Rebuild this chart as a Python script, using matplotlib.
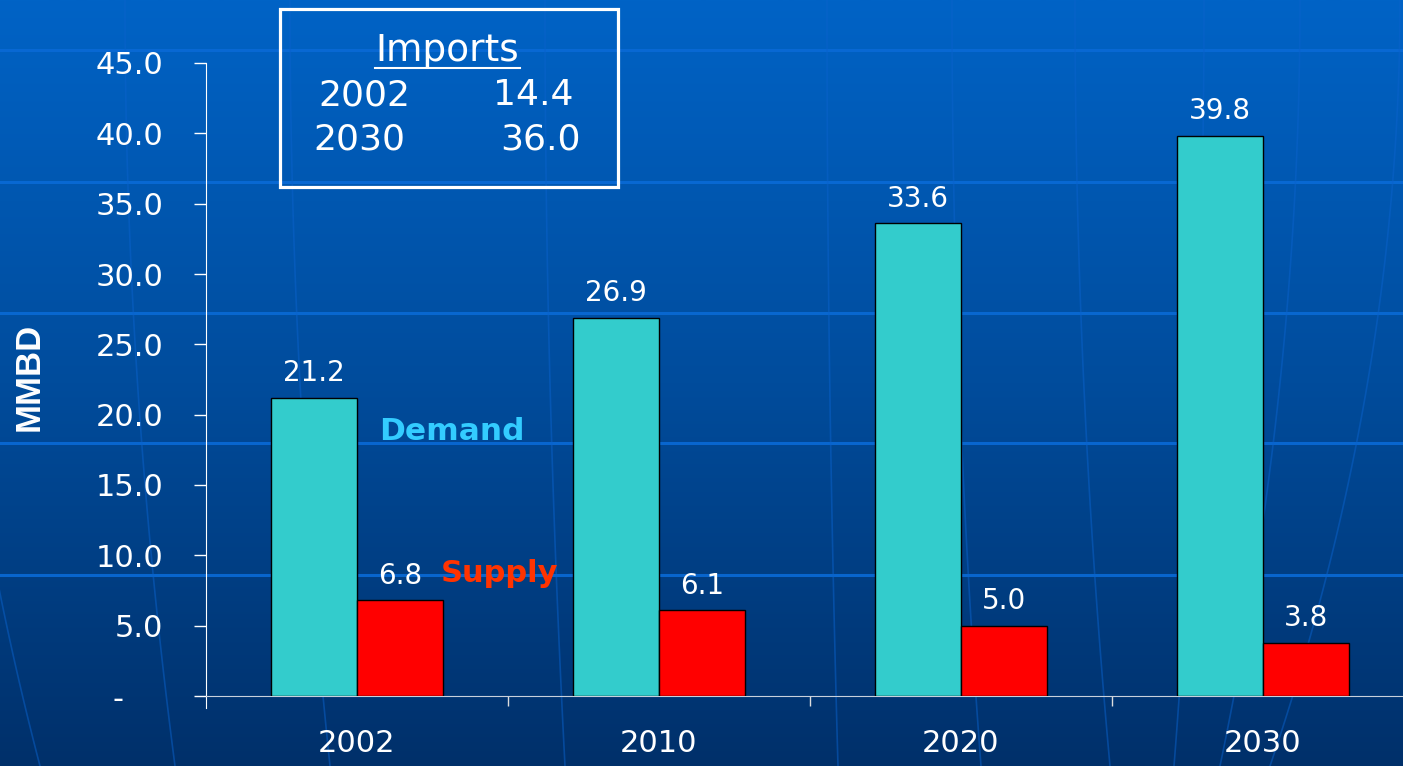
import matplotlib.pyplot as plt
import numpy as np
from matplotlib.colors import LinearSegmentedColormap

years = ['2002', '2010', '2020', '2030']
demand = [21.2, 26.9, 33.6, 39.8]
supply = [6.8, 6.1, 5.0, 3.8]
imports_rows = [('2002', '14.4'), ('2030', '36.0')]
yticks = [0, 5, 10, 15, 20, 25, 30, 35, 40, 45]
ytick_labels = ['-    '] + [f'{v:.1f}' for v in yticks[1:]]

plt.rcParams['font.family'] = ['DejaVu Sans']

fig = plt.figure(figsize=(14.03, 7.66), dpi=100)

# background: blue gradient with faint grid lines
bg = fig.add_axes([0, 0, 1, 1], zorder=0)
grad = np.linspace(0, 1, 256).reshape(-1, 1)
cmap = LinearSegmentedColormap.from_list('bg', ['#0063c6', '#004c9c', '#00306a'])
bg.imshow(grad, aspect='auto', cmap=cmap, extent=[0, 1, 0, 1], origin='upper')
for yy in [50, 182, 313, 443, 575]:
    bg.axhline(1 - yy / 766, color='#0a6ad6', lw=2.2, alpha=0.9)
t = np.linspace(0, 1, 100)
for x0, bend in [(-60, 100), (125, 50), (290, 40), (545, 20), (827, 11), (952, 29),
                 (1075, 35), (1204, -30), (1300, -80), (1400, -130)]:
    xs = (x0 + bend * t ** 2) / 1403
    bg.plot(xs, 1 - t, color='#0a62cc', lw=1.2, alpha=0.5)
bg.set_xlim(0, 1)
bg.set_ylim(0, 1)
bg.axis('off')

ax = fig.add_axes([206 / 1403, 70 / 766, 1 - 206 / 1403, 633 / 766], zorder=1)
ax.patch.set_alpha(0)

x = np.arange(len(years))
w = 0.285
b1 = ax.bar(x - w / 2, demand, w, color='#33cccc', edgecolor='black', lw=1, zorder=3)
b2 = ax.bar(x + w / 2, supply, w, color='#ff0000', edgecolor='black', lw=1, zorder=3)
for bars, vals in [(b1, demand), (b2, supply)]:
    for rect, v in zip(bars, vals):
        ax.annotate(f'{v:.1f}', (rect.get_x() + rect.get_width() / 2, v),
                    xytext=(0, 12), textcoords='offset points',
                    ha='center', va='baseline', color='white', fontsize=20)

ax.set_xlim(-0.5, (1403 - 206) / 302 - 0.5)
ax.set_ylim(0, 45)
ax.set_yticks(yticks)
ax.set_yticklabels(ytick_labels)
ax.set_xticks(x)
ax.set_xticklabels(years)
ax.set_xticks(x[:-1] + 0.5, minor=True)
ax.tick_params(axis='y', colors='white', labelsize=22, length=8.6, width=1, pad=22)
ax.tick_params(axis='x', which='major', colors='white', labelsize=22, length=0, pad=24)
ax.tick_params(axis='x', which='minor', color='#dddddd', length=7.5, width=1)
for s in ['top', 'right']:
    ax.spines[s].set_visible(False)
ax.spines['left'].set_color('white')
ax.spines['bottom'].set_color('#c8d0dc')
ax.spines['left'].set_bounds(-0.85, 45)

fig.text(29 / 1403, 1 - 377 / 766, 'MMBD', color='white', fontsize=25,
         fontweight='bold', family='Liberation Sans', rotation=90,
         ha='center', va='center')
fig.text(379 / 1403, 1 - 431 / 766, 'Demand', color='#33ccff', fontsize=22.5,
         fontweight='bold', va='center', ha='left')
fig.text(441 / 1403, 1 - 574 / 766, 'Supply', color='#ff3300', fontsize=22,
         fontweight='bold', va='center', ha='left')

# imports box
box = plt.Rectangle((280 / 1403, 1 - 187 / 766), 338 / 1403, 178 / 766,
                    transform=fig.transFigure, fill=False, edgecolor='white', lw=2.3, zorder=5)
fig.add_artist(box)
fig.text(447 / 1403, 1 - 51 / 766, 'Imports', color='white', fontsize=27,
         ha='center', va='center', zorder=6)
fig.add_artist(plt.Line2D([375 / 1403, 520 / 1403], [1 - 68 / 766] * 2,
                          transform=fig.transFigure, color='white', lw=1.5))
for i, (yr, val) in enumerate(imports_rows):
    yy = 1 - (95 + i * 45) / 766
    fig.text((364 - 5 * i) / 1403, yy, yr, color='white', fontsize=26, ha='center', va='center')
    fig.text((533 + 7 * i) / 1403, yy, val, color='white', fontsize=26, ha='center', va='center')

fig.savefig('out.png', dpi=100)
